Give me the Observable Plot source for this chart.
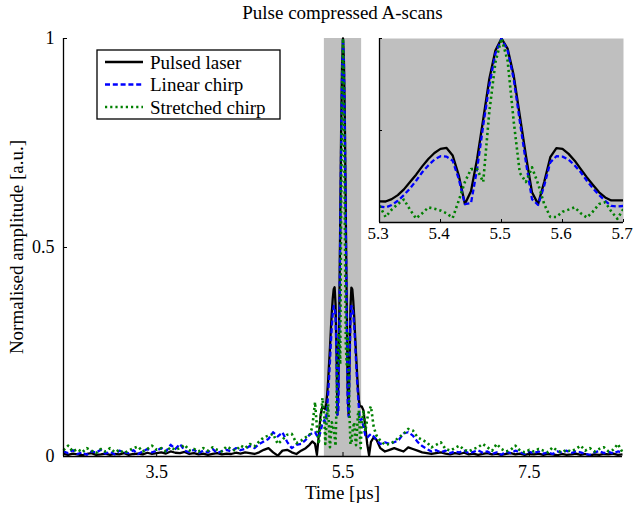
<!DOCTYPE html>
<html><head><meta charset="utf-8">
<script src="https://cdn.jsdelivr.net/npm/d3@7"></script>
<script src="https://cdn.jsdelivr.net/npm/@observablehq/plot@0.6"></script>
<style>
body{margin:0;background:#fff;}
#wrap{position:relative;width:633px;height:507px;font-family:"Liberation Serif",serif;color:#000;overflow:hidden;}
#title{position:absolute;left:63px;width:559px;top:3px;text-align:center;font-size:19px;line-height:20px;}
#main{position:absolute;left:0;top:30px;}
#inset{position:absolute;left:369px;top:30px;}
#legend{position:absolute;left:96px;top:49px;}
#xlabel{position:absolute;left:63px;width:559px;top:483px;text-align:center;font-size:19px;line-height:20px;}
#ylabel{position:absolute;left:-133px;width:300px;top:237px;text-align:center;font-size:19px;line-height:20px;transform:rotate(-90deg);}
</style></head><body>
<div id="wrap">
  <div id="title">Pulse compressed A-scans</div>
  <div id="main"></div>
  <div id="inset"></div>
  <div id="legend"></div>
  <div id="xlabel">Time [µs]</div>
  <div id="ylabel">Normalised amplitude [a.u.]</div>
</div>
<script>
// ---- data ----
const time = [
  2.50,2.55,2.60,2.65,2.70,2.75,2.80,2.85,2.90,2.95,3.00,3.05,3.10,3.15,3.20,3.25,3.30,3.35,3.40,3.45,
  3.50,3.55,3.60,3.65,3.70,3.75,3.80,3.85,3.90,3.95,4.00,4.05,4.10,4.15,4.20,4.25,4.30,4.35,4.40,4.45,
  4.50,4.55,4.60,4.65,4.70,4.75,4.80,4.85,4.90,4.95,5.00,5.05,5.10,
  5.14,5.17,5.20,5.22,5.24,5.26,5.28,
  5.30,5.31,5.32,5.33,5.34,5.35,5.36,5.37,5.38,5.39,5.40,5.41,5.42,5.43,5.44,5.45,5.46,5.47,5.48,5.49,
  5.50,5.51,5.52,5.53,5.54,5.55,5.56,5.57,5.58,5.59,5.60,5.61,5.62,5.63,5.64,5.65,5.66,5.67,5.68,5.69,5.70,
  5.72,5.74,5.76,5.78,5.80,5.83,5.86,5.90,
  5.95,6.00,6.05,6.10,6.15,6.20,6.25,6.30,6.35,6.40,6.45,6.50,6.55,6.60,6.65,6.70,6.75,6.80,6.85,6.90,
  6.95,7.00,7.05,7.10,7.15,7.20,7.25,7.30,7.35,7.40,7.45,7.50,7.55,7.60,7.65,7.70,7.75,7.80,7.85,7.90,
  7.95,8.00,8.05,8.10,8.15,8.20,8.25,8.30,8.35,8.40,8.45,8.50
];
const pulsedLaser = [
  0.006,0.004,0.007,0.005,0.003,0.006,0.008,0.004,0.005,0.007,0.004,0.006,0.005,0.008,0.004,0.006,0.007,0.005,0.009,0.006,
  0.008,0.010,0.007,0.012,0.009,0.008,0.011,0.006,0.008,0.005,0.007,0.004,0.006,0.008,0.005,0.007,0.006,0.009,0.007,0.010,
  0.008,0.006,0.010,0.016,0.020,0.010,0.002,0.014,0.016,0.010,0.006,0.014,0.020,
  0.028,0.036,0.030,0.004,0.050,0.100,0.120,
  0.115,0.114,0.127,0.149,0.180,0.220,0.260,0.305,0.345,0.378,0.400,0.405,0.364,0.255,0.100,0.170,0.345,0.560,0.780,0.935,
  1.000,0.945,0.800,0.580,0.364,0.164,0.100,0.220,0.355,0.404,0.400,0.373,0.336,0.290,0.245,0.204,0.164,0.136,0.120,0.120,0.120,
  0.110,0.070,0.030,0.003,0.035,0.046,0.040,0.020,
  0.012,0.016,0.020,0.016,0.012,0.022,0.018,0.014,0.010,0.008,0.006,0.008,0.010,0.007,0.005,0.008,0.006,0.009,0.005,0.007,
  0.004,0.006,0.008,0.005,0.007,0.004,0.006,0.008,0.005,0.007,0.004,0.006,0.005,0.007,0.004,0.006,0.005,0.003,0.006,0.004,
  0.005,0.007,0.004,0.006,0.003,0.005,0.004,0.006,0.005,0.007,0.004,0.005
];
const linearChirp = [
  0.012,0.008,0.015,0.006,0.010,0.004,0.012,0.009,0.016,0.007,0.011,0.005,0.014,0.010,0.008,0.015,0.006,0.012,0.018,0.010,
  0.014,0.020,0.012,0.028,0.018,0.030,0.014,0.010,0.016,0.008,0.014,0.010,0.018,0.008,0.013,0.016,0.012,0.020,0.015,0.018,
  0.025,0.020,0.030,0.036,0.042,0.058,0.048,0.058,0.035,0.020,0.028,0.030,0.040,
  0.052,0.056,0.058,0.050,0.045,0.060,0.080,
  0.087,0.082,0.095,0.118,0.149,0.185,0.227,0.273,0.310,0.342,0.360,0.358,0.336,0.236,0.100,0.105,0.290,0.527,0.745,0.918,
  1.000,0.935,0.780,0.550,0.327,0.127,0.095,0.200,0.327,0.360,0.358,0.342,0.310,0.273,0.227,0.185,0.149,0.118,0.090,0.087,0.090,
  0.070,0.050,0.045,0.050,0.054,0.048,0.040,0.030,
  0.034,0.030,0.034,0.040,0.055,0.058,0.050,0.035,0.025,0.018,0.012,0.015,0.010,0.014,0.008,0.012,0.010,0.014,0.008,0.011,
  0.015,0.009,0.012,0.006,0.010,0.004,0.012,0.008,0.014,0.010,0.006,0.011,0.008,0.012,0.007,0.010,0.006,0.012,0.009,0.014,
  0.008,0.012,0.010,0.006,0.004,0.010,0.013,0.008,0.011,0.007,0.012,0.010
];
const stretchedChirp = [
  0.015,0.026,0.012,0.018,0.010,0.020,0.014,0.008,0.018,0.012,0.020,0.010,0.016,0.008,0.014,0.020,0.024,0.012,0.018,0.026,
  0.016,0.020,0.012,0.022,0.016,0.020,0.028,0.014,0.018,0.012,0.020,0.014,0.022,0.016,0.012,0.024,0.018,0.014,0.026,0.020,
  0.030,0.024,0.036,0.046,0.050,0.054,0.030,0.040,0.052,0.054,0.032,0.038,0.046,
  0.050,0.070,0.130,0.070,0.030,0.090,0.140,
  0.090,0.030,0.070,0.100,0.125,0.070,0.022,0.050,0.082,0.075,0.065,0.050,0.025,0.120,0.220,0.290,0.290,0.220,0.600,0.870,
  1.000,0.880,0.550,0.270,0.220,0.300,0.210,0.100,0.030,0.030,0.058,0.070,0.082,0.050,0.027,0.060,0.100,0.110,0.060,0.020,0.075,
  0.110,0.060,0.090,0.110,0.120,0.070,0.050,0.038,
  0.028,0.030,0.036,0.046,0.054,0.066,0.062,0.046,0.040,0.034,0.022,0.028,0.034,0.018,0.014,0.020,0.026,0.016,0.012,0.018,
  0.022,0.030,0.022,0.014,0.030,0.018,0.012,0.016,0.026,0.014,0.010,0.016,0.012,0.018,0.014,0.010,0.022,0.014,0.010,0.016,
  0.012,0.018,0.026,0.014,0.020,0.012,0.018,0.022,0.012,0.016,0.030,0.010
];
const seriesNames = ["Pulsed laser", "Linear chirp", "Stretched chirp"];
const xDomain = [2.5, 8.5];
const xTicks = [3.5, 5.5, 7.5];
const yTicks = [0, 0.5, 1];
const zoomRange = [5.3, 5.7];
const insetXTicks = [5.3, 5.4, 5.5, 5.6, 5.7];
const insetYTicks = [0.5, 1];

// ---- styles ----
const styles = [
  {stroke: "#000000", strokeWidth: 2.3, strokeDasharray: null},
  {stroke: "#0000ff", strokeWidth: 2.3, strokeDasharray: "5,2.8"},
  {stroke: "#008000", strokeWidth: 2.6, strokeDasharray: "2.2,3"}
];
const rows = time.map((t, i) => ({t, v0: pulsedLaser[i], v1: linearChirp[i], v2: stretchedChirp[i]}));
const insetRows = rows.filter(d => d.t >= zoomRange[0] - 1e-9 && d.t <= zoomRange[1] + 1e-9);
const lineMarks = (data, clip) => [0, 1, 2].map(k => Plot.line(data, {
  x: "t", y: "v" + k, stroke: styles[k].stroke, strokeWidth: styles[k].strokeWidth,
  strokeDasharray: styles[k].strokeDasharray, strokeLinecap: "butt", strokeLinejoin: "round", clip
}));
const fmt = d => String(d);
const plotStyle = {fontFamily: "Liberation Serif, serif", fontSize: "18px", background: "transparent", overflow: "visible", color: "#000"};

const main = Plot.plot({
  width: 633, height: 477,
  marginLeft: 63, marginRight: 11, marginTop: 8, marginBottom: 51,
  style: plotStyle,
  x: {domain: xDomain},
  y: {domain: [0, 1]},
  marks: [
    Plot.rect([zoomRange], {x1: d => d[0], x2: d => d[1], fill: "#bfbfbf"}),
    ...lineMarks(rows, false),
    Plot.ruleY([0], {stroke: "#000", strokeWidth: 1.3}),
    Plot.ruleX([xDomain[0]], {stroke: "#000", strokeWidth: 1.3}),
    Plot.axisX({ticks: xTicks, tickSize: 4, dy: -4, tickFormat: () => "", label: null}),
    Plot.axisX({ticks: xTicks, tickSize: 0, tickPadding: 9, tickFormat: fmt, label: null}),
    Plot.axisY({ticks: yTicks, tickSize: 4, dx: 4, tickFormat: () => "", label: null}),
    Plot.axisY({ticks: yTicks, tickSize: 0, tickPadding: 9, tickFormat: fmt, label: null})
  ]
});
document.getElementById("main").appendChild(main);

const inset = Plot.plot({
  width: 264, height: 214,
  marginLeft: 10, marginRight: 10, marginTop: 8, marginBottom: 22,
  style: {...plotStyle, fontSize: "17px"},
  x: {domain: zoomRange},
  y: {domain: [0, 1]},
  marks: [
    Plot.frame({fill: "#bfbfbf", stroke: "none"}),
    ...lineMarks(insetRows, true),
    Plot.ruleY([0], {stroke: "#000", strokeWidth: 1.3}),
    Plot.ruleX([zoomRange[0]], {stroke: "#000", strokeWidth: 1.3}),
    Plot.axisX({ticks: insetXTicks, tickSize: 3, dy: -3, tickFormat: () => "", label: null}),
    Plot.axisX({ticks: insetXTicks, tickSize: 0, tickPadding: 4, dx: -1.5, tickFormat: d3.format(".1f"), label: null}),
    Plot.axisY({ticks: insetYTicks, tickSize: 3, dx: 3, tickFormat: () => "", label: null})
  ]
});
document.getElementById("inset").appendChild(inset);

// ---- legend ----
const lg = d3.select("#legend").append("svg").attr("width", 186).attr("height", 72)
  .style("font-family", "Liberation Serif, serif").style("font-size", "19px");
lg.append("rect").attr("x", 1).attr("y", 1).attr("width", 183).attr("height", 69)
  .attr("fill", "#fff").attr("stroke", "#000").attr("stroke-width", 1.3);
seriesNames.forEach((name, k) => {
  const y = 13 + k * 22.5;
  lg.append("line").attr("x1", 9).attr("x2", 47).attr("y1", y).attr("y2", y)
    .attr("stroke", styles[k].stroke).attr("stroke-width", styles[k].strokeWidth)
    .attr("stroke-dasharray", styles[k].strokeDasharray);
  lg.append("text").attr("x", 54).attr("y", y).attr("dy", "0.35em").text(name);
});
</script>
</body></html>
